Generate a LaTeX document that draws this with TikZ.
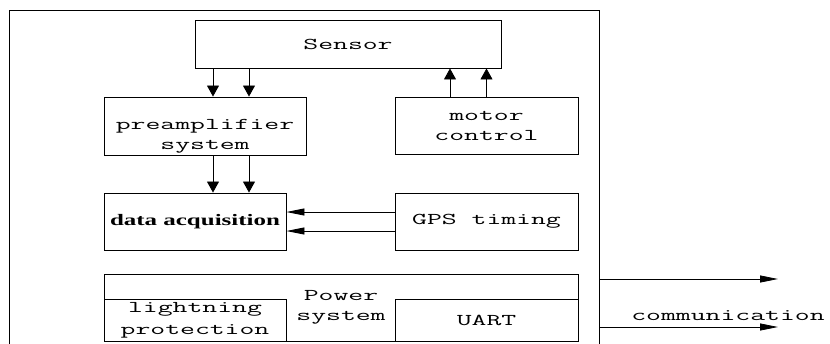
\documentclass[tikz,border=0pt]{standalone}
\usepackage{fontspec}
\usepackage{tikz}
\usetikzlibrary{arrows.meta, positioning, calc}
\newfontfamily\monofnt[FakeStretch=1.75]{Latin Modern Mono}
\newfontfamily\serfnt[FakeStretch=1.56]{Liberation Serif}

\begin{document}
\begin{tikzpicture}[x=1pt, y=-1pt,
      box/.style={draw, line width=0.9pt, inner sep=0pt, align=center,
                  font=\monofnt\fontsize{16.5}{20}\selectfont},
      outer/.style={draw, line width=0.9pt, minimum width=590pt, minimum height=360pt},
      sm/.style={font=\monofnt\fontsize{16.5}{20}\selectfont},
      ar/.style={-{Triangle[length=11pt, width=12pt]}, line width=0.8pt},
      arh/.style={-{Triangle[length=18pt, width=7pt]}, line width=0.8pt}
    ]
    \useasboundingbox (0,0) rectangle (830,343);
    \clip (0,0) rectangle (830,343);

    \node[outer] (unit) at (304,190) {};

    \node[box, minimum width=306pt, minimum height=48pt] (sensor) at (348,44) {Sensor};
    \node[box, minimum width=202pt, minimum height=58pt] (preamp) at (205,126)
        {\rule{0pt}{30pt}preamplifier\\system};
    \node[box, minimum width=183pt, minimum height=57pt] (motor) at (486.5,125.5) {motor\\control};
    \node[box, minimum width=182pt, minimum height=57pt,
          font=\serfnt\bfseries\fontsize{16}{20}\selectfont] (daq) at (195,221.5) {data acquisition};
    \node[box, minimum width=183pt, minimum height=57pt] (gps) at (486.5,221.5) {GPS timing};

    % power part
    \node[box, minimum width=474pt, minimum height=67pt] (power) at (341,307.5) {Power\\system};
    \node[box, minimum width=182pt, minimum height=42pt] (light) at (195,320)
        {lightning\\[2pt]protection};
    \node[box, minimum width=183pt, minimum height=42pt] (uart) at (486.5,320) {UART};

    \draw[ar] ([xshift=8pt]preamp.north |- sensor.south) -- ([xshift=8pt]preamp.north);
    \draw[ar] ([xshift=44pt]preamp.north |- sensor.south) -- ([xshift=44pt]preamp.north);
    \draw[ar] ([xshift=-36.5pt]motor.north) -- ([xshift=-36.5pt]motor.north |- sensor.south);
    \draw[ar] (motor.north) -- (motor.north |- sensor.south);
    \draw[ar] ([xshift=8pt]preamp.south) -- ([xshift=8pt]preamp.south |- daq.north);
    \draw[ar] ([xshift=44pt]preamp.south) -- ([xshift=44pt]preamp.south |- daq.north);
    \draw[arh] ([yshift=9.5pt]gps.west) -- ([yshift=9.5pt]gps.west -| daq.east);
    \draw[arh] ([yshift=-9.5pt]gps.west) -- ([yshift=-9.5pt]gps.west -| daq.east);

    % communication
    \coordinate (c1) at (778,279);
    \coordinate (c2) at (778,327);
    \draw[arh] (unit.east |- c1) -- (c1);
    \draw[arh] (unit.east |- c2) -- (c2);
    \node[sm] (com) at (728,316) {communication};
  \end{tikzpicture}
\end{document}
